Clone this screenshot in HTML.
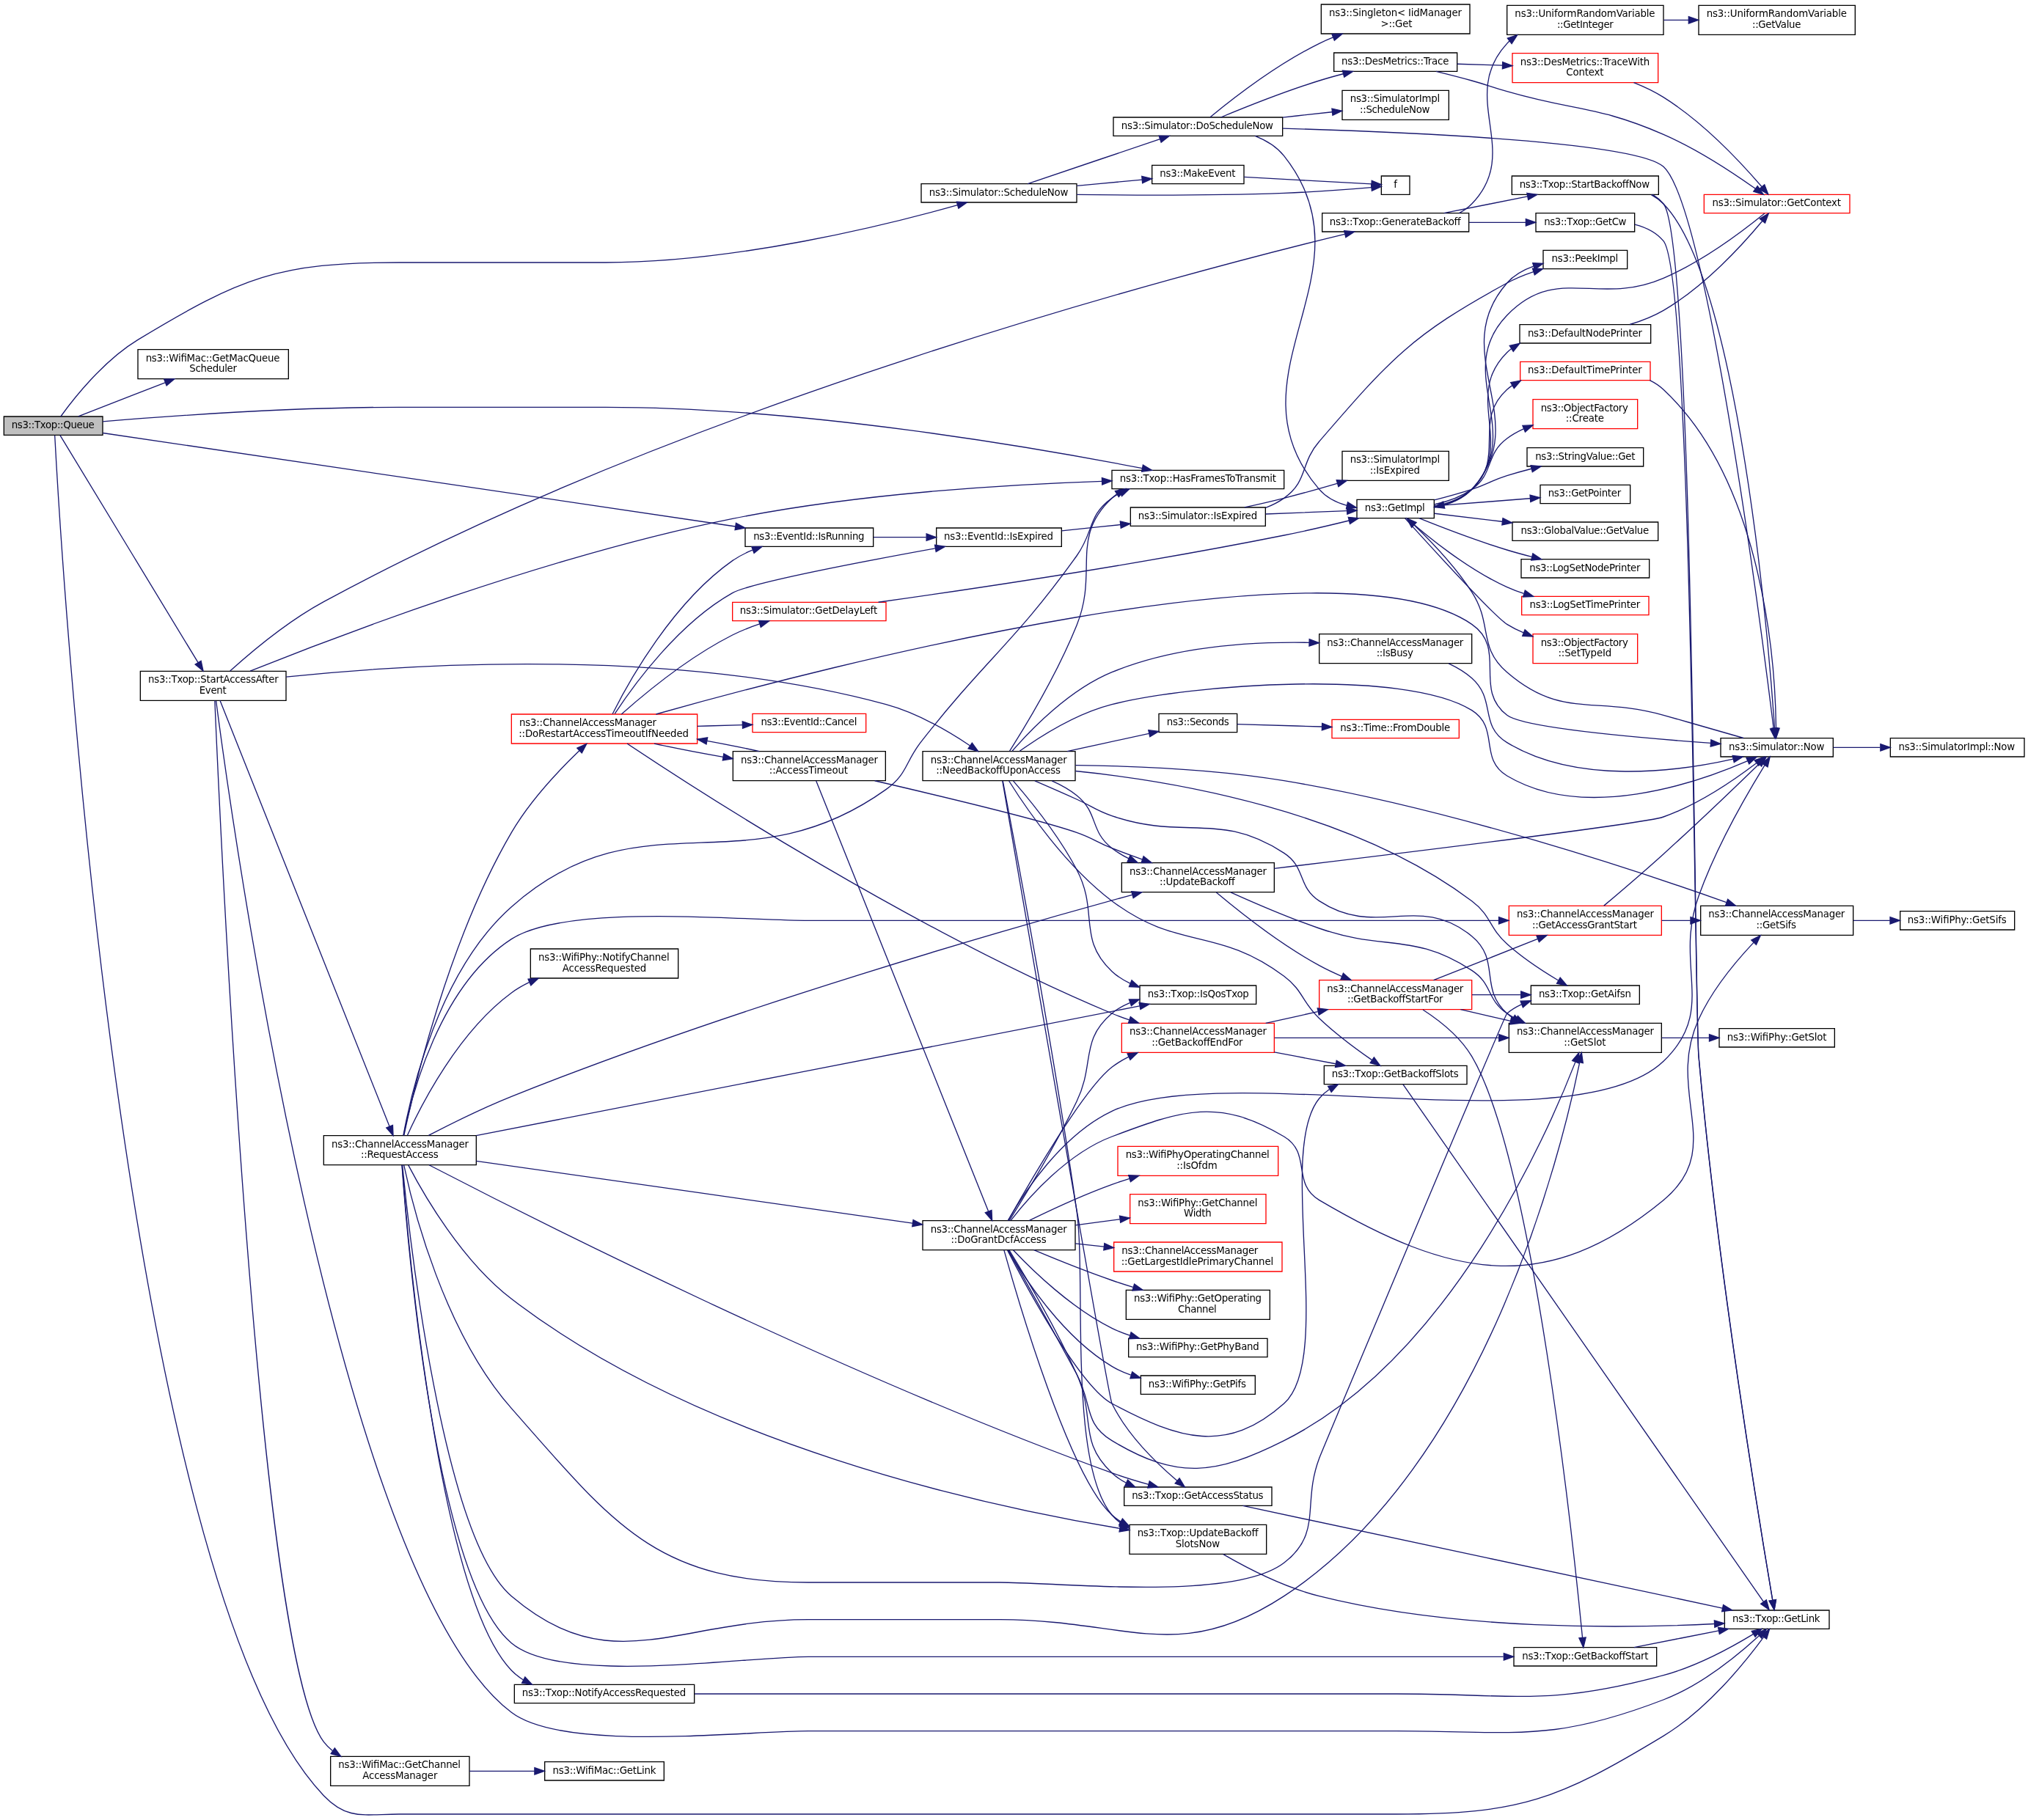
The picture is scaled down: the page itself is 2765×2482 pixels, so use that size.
<!DOCTYPE html>
<html lang="en">
<head>
<meta charset="utf-8">
<title>ns3::Txop::Queue call graph</title>
<style>
html,body{margin:0;padding:0;background:#fff;}
body{width:2765px;height:2482px;overflow:hidden;}
svg{display:block;}
svg text{filter:grayscale(1);font-family:"DejaVu Sans","Liberation Sans",sans-serif;font-size:10px;fill:#000;}
</style>
</head>
<body>
<svg width="2765" height="2482" viewBox="0 0 2073.75 1861.5">
<g id="graph0" class="graph" transform="scale(1 1) rotate(0) translate(4 1857.13)">
<polygon fill="white" stroke="none" points="-4,4 -4,-1857.13 2070,-1857.13 2070,4 -4,4"/>
<g id="node1" class="node">
<polygon fill="#bfbfbf" stroke="black" points="0,-1412.13 0,-1431.13 101,-1431.13 101,-1412.13 0,-1412.13"/>
<text textLength="84.79" text-anchor="middle" x="50.16" y="-1419.13">ns3::Txop::Queue</text>
</g>
<g id="node2" class="node">
<polygon fill="white" stroke="black" points="1759.5,-191.13 1759.5,-210.13 1866.5,-210.13 1866.5,-191.13 1759.5,-191.13"/>
<text textLength="89.56" text-anchor="middle" x="1812.32" y="-198.13">ns3::Txop::GetLink</text>
</g>
<g id="edge1" class="edge">
<path fill="none" stroke="midnightblue" d="M52.01,-1411.82C58.04,-1298.52 119.82,-237.95 327,-20.63 351.32,4.88 368.75,-1.63 404,-1.63 404,-1.63 404,-1.63 1424,-1.63 1550.44,-1.63 1588.8,-16.21 1697,-81.63 1741.43,-108.49 1780.43,-156.72 1799.53,-182.77"/>
<polygon fill="midnightblue" stroke="midnightblue" points="1796.76,-184.91 1805.44,-190.99 1802.45,-180.82 1796.76,-184.91"/>
</g>
<g id="node3" class="node">
<polygon fill="white" stroke="black" points="137,-1469.63 137,-1499.63 291,-1499.63 291,-1469.63 137,-1469.63"/>
<text textLength="137.05" text-anchor="start" x="145.00" y="-1487.63">ns3::WifiMac::GetMacQueue</text>
<text textLength="48.53" text-anchor="middle" x="214.00" y="-1476.63">Scheduler</text>
</g>
<g id="edge2" class="edge">
<path fill="none" stroke="midnightblue" d="M76.03,-1431.2C99.49,-1440.35 135.54,-1454.41 164.76,-1465.81"/>
<polygon fill="midnightblue" stroke="midnightblue" points="163.79,-1469.19 174.38,-1469.56 166.34,-1462.67 163.79,-1469.19"/>
</g>
<g id="node4" class="node">
<polygon fill="white" stroke="black" points="1133,-1357.13 1133,-1376.13 1309,-1376.13 1309,-1357.13 1133,-1357.13"/>
<text textLength="159.94" text-anchor="middle" x="1221.00" y="-1364.13">ns3::Txop::HasFramesToTransmit</text>
</g>
<g id="edge3" class="edge">
<path fill="none" stroke="midnightblue" d="M101.07,-1425.99C169.26,-1431.6 295.83,-1440.63 404,-1440.63 404,-1440.63 404,-1440.63 615,-1440.63 818.48,-1440.63 1057.64,-1398.87 1164.06,-1378.09"/>
<polygon fill="midnightblue" stroke="midnightblue" points="1164.8,-1381.52 1173.94,-1376.15 1163.45,-1374.65 1164.8,-1381.52"/>
</g>
<g id="node5" class="node">
<polygon fill="white" stroke="black" points="758,-1298.13 758,-1317.13 889,-1317.13 889,-1298.13 758,-1298.13"/>
<text textLength="113.49" text-anchor="middle" x="823.16" y="-1305.13">ns3::EventId::IsRunning</text>
</g>
<g id="edge4" class="edge">
<path fill="none" stroke="midnightblue" d="M101.2,-1414.28C232.93,-1394.8 591.65,-1341.76 748,-1318.64"/>
<polygon fill="midnightblue" stroke="midnightblue" points="748.62,-1322.09 758,-1317.17 747.59,-1315.17 748.62,-1322.09"/>
</g>
<g id="node23" class="node">
<polygon fill="white" stroke="black" points="938,-1650.13 938,-1669.13 1097,-1669.13 1097,-1650.13 938,-1650.13"/>
<text textLength="142.25" text-anchor="middle" x="1017.16" y="-1657.13">ns3::Simulator::ScheduleNow</text>
</g>
<g id="edge25" class="edge">
<path fill="none" stroke="midnightblue" d="M58.09,-1431.13C71.09,-1449.14 101.82,-1488.36 137,-1509.63 242.9,-1573.65 280.25,-1588.63 404,-1588.63 404,-1588.63 404,-1588.63 615,-1588.63 748.35,-1588.63 902.87,-1627.08 975.18,-1647.39"/>
<polygon fill="midnightblue" stroke="midnightblue" points="974.25,-1650.76 984.83,-1650.13 976.17,-1644.03 974.25,-1650.76"/>
</g>
<g id="node31" class="node">
<polygon fill="white" stroke="black" points="139.5,-1140.63 139.5,-1170.63 288.5,-1170.63 288.5,-1140.63 139.5,-1140.63"/>
<text textLength="133.29" text-anchor="start" x="147.50" y="-1158.63">ns3::Txop::StartAccessAfter</text>
<text textLength="27.80" text-anchor="middle" x="213.66" y="-1147.63">Event</text>
</g>
<g id="edge38" class="edge">
<path fill="none" stroke="midnightblue" d="M57.44,-1411.85C80.51,-1373.84 164.59,-1235.37 198.59,-1179.37"/>
<polygon fill="midnightblue" stroke="midnightblue" points="201.58,-1181.18 203.78,-1170.82 195.6,-1177.55 201.58,-1181.18"/>
</g>
<g id="node6" class="node">
<polygon fill="white" stroke="black" points="953.5,-1298.13 953.5,-1317.13 1081.5,-1317.13 1081.5,-1298.13 953.5,-1298.13"/>
<text textLength="111.68" text-anchor="middle" x="1017.16" y="-1305.13">ns3::EventId::IsExpired</text>
</g>
<g id="edge5" class="edge">
<path fill="none" stroke="midnightblue" d="M889.23,-1307.63C906.53,-1307.63 925.34,-1307.63 943.06,-1307.63"/>
<polygon fill="midnightblue" stroke="midnightblue" points="943.35,-1311.13 953.35,-1307.63 943.35,-1304.13 943.35,-1311.13"/>
</g>
<g id="node7" class="node">
<polygon fill="white" stroke="black" points="1152,-1319.13 1152,-1338.13 1290,-1338.13 1290,-1319.13 1152,-1319.13"/>
<text textLength="121.83" text-anchor="middle" x="1220.66" y="-1326.13">ns3::Simulator::IsExpired</text>
</g>
<g id="edge6" class="edge">
<path fill="none" stroke="midnightblue" d="M1081.7,-1314.22C1100.76,-1316.2 1121.91,-1318.4 1141.81,-1320.48"/>
<polygon fill="midnightblue" stroke="midnightblue" points="1141.47,-1323.96 1151.78,-1321.52 1142.2,-1317 1141.47,-1323.96"/>
</g>
<g id="node8" class="node">
<polygon fill="white" stroke="black" points="1383.5,-1327.13 1383.5,-1346.13 1462.5,-1346.13 1462.5,-1327.13 1383.5,-1327.13"/>
<text textLength="61.32" text-anchor="middle" x="1422.32" y="-1334.13">ns3::GetImpl</text>
</g>
<g id="edge7" class="edge">
<path fill="none" stroke="midnightblue" d="M1290.27,-1331.36C1317.5,-1332.45 1348.23,-1333.68 1373.16,-1334.67"/>
<polygon fill="midnightblue" stroke="midnightblue" points="1373.33,-1338.18 1383.46,-1335.09 1373.61,-1331.19 1373.33,-1338.18"/>
</g>
<g id="node20" class="node">
<polygon fill="white" stroke="black" points="1574,-1582.13 1574,-1601.13 1660,-1601.13 1660,-1582.13 1574,-1582.13"/>
<text textLength="68.01" text-anchor="middle" x="1616.66" y="-1589.13">ns3::PeekImpl</text>
</g>
<g id="edge24" class="edge">
<path fill="none" stroke="midnightblue" d="M1290.3,-1337.89C1296.95,-1340.42 1303.32,-1343.61 1309,-1347.63 1333.78,-1365.14 1325.16,-1382.67 1345,-1405.63 1418.01,-1490.1 1438.91,-1514.31 1537,-1567.63 1545.41,-1572.2 1554.81,-1576.02 1564.11,-1579.17"/>
<polygon fill="midnightblue" stroke="midnightblue" points="1563.13,-1582.53 1573.72,-1582.21 1565.25,-1575.86 1563.13,-1582.53"/>
</g>
<g id="node22" class="node">
<polygon fill="white" stroke="black" points="1368.5,-1365.63 1368.5,-1395.63 1477.5,-1395.63 1477.5,-1365.63 1368.5,-1365.63"/>
<text textLength="91.84" text-anchor="start" x="1376.50" y="-1383.63">ns3::SimulatorImpl</text>
<text textLength="51.16" text-anchor="middle" x="1422.32" y="-1372.63">::IsExpired</text>
</g>
<g id="edge23" class="edge">
<path fill="none" stroke="midnightblue" d="M1268.65,-1338.19C1281.74,-1341.05 1295.97,-1344.31 1309,-1347.63 1326.71,-1352.14 1345.84,-1357.53 1363.24,-1362.63"/>
<polygon fill="midnightblue" stroke="midnightblue" points="1362.67,-1366.11 1373.26,-1365.59 1364.66,-1359.4 1362.67,-1366.11"/>
</g>
<g id="node9" class="node">
<polygon fill="white" stroke="red" points="1563.5,-1418.63 1563.5,-1448.63 1670.5,-1448.63 1670.5,-1418.63 1563.5,-1418.63"/>
<text textLength="89.43" text-anchor="start" x="1571.50" y="-1436.63">ns3::ObjectFactory</text>
<text textLength="39.19" text-anchor="middle" x="1616.66" y="-1425.63">::Create</text>
</g>
<g id="edge8" class="edge">
<path fill="none" stroke="midnightblue" d="M1462.71,-1341.13C1475.73,-1344.03 1489.79,-1348.8 1501,-1356.63 1524.04,-1372.72 1514.38,-1391.93 1537,-1408.63 1542.16,-1412.44 1547.93,-1415.68 1553.93,-1418.44"/>
<polygon fill="midnightblue" stroke="midnightblue" points="1552.92,-1421.81 1563.49,-1422.38 1555.58,-1415.34 1552.92,-1421.81"/>
</g>
<g id="node10" class="node">
<polygon fill="white" stroke="black" points="1550,-1506.13 1550,-1525.13 1684,-1525.13 1684,-1506.13 1550,-1506.13"/>
<text textLength="116.99" text-anchor="middle" x="1616.66" y="-1513.13">ns3::DefaultNodePrinter</text>
</g>
<g id="edge9" class="edge">
<path fill="none" stroke="midnightblue" d="M1462.87,-1338.73C1476.53,-1341.35 1490.95,-1346.56 1501,-1356.63 1546.37,-1402.11 1491.22,-1451.56 1537,-1496.63 1538.43,-1498.04 1539.95,-1499.35 1541.54,-1500.57"/>
<polygon fill="midnightblue" stroke="midnightblue" points="1539.69,-1503.55 1550.02,-1505.94 1543.44,-1497.63 1539.69,-1503.55"/>
</g>
<g id="node12" class="node">
<polygon fill="white" stroke="red" points="1550.5,-1468.13 1550.5,-1487.13 1683.5,-1487.13 1683.5,-1468.13 1550.5,-1468.13"/>
<text textLength="116.77" text-anchor="middle" x="1616.66" y="-1475.13">ns3::DefaultTimePrinter</text>
</g>
<g id="edge12" class="edge">
<path fill="none" stroke="midnightblue" d="M1462.8,-1339.29C1476.29,-1341.99 1490.62,-1347.1 1501,-1356.63 1536.41,-1389.14 1501.3,-1426.43 1537,-1458.63 1538.7,-1460.16 1540.51,-1461.58 1542.39,-1462.89"/>
<polygon fill="midnightblue" stroke="midnightblue" points="1540.72,-1465.97 1551.13,-1467.94 1544.23,-1459.91 1540.72,-1465.97"/>
</g>
<g id="node15" class="node">
<polygon fill="white" stroke="black" points="1557.5,-1380.13 1557.5,-1399.13 1676.5,-1399.13 1676.5,-1380.13 1557.5,-1380.13"/>
<text textLength="102.22" text-anchor="middle" x="1617.00" y="-1387.13">ns3::StringValue::Get</text>
</g>
<g id="edge16" class="edge">
<path fill="none" stroke="midnightblue" d="M1462.64,-1345.72C1474.98,-1348.88 1488.65,-1352.64 1501,-1356.63 1517.34,-1361.91 1520.62,-1365.5 1537,-1370.63 1545.03,-1373.14 1553.61,-1375.52 1562.04,-1377.68"/>
<polygon fill="midnightblue" stroke="midnightblue" points="1561.29,-1381.1 1571.84,-1380.12 1562.98,-1374.31 1561.29,-1381.1"/>
</g>
<g id="node16" class="node">
<polygon fill="white" stroke="black" points="1571,-1342.13 1571,-1361.13 1663,-1361.13 1663,-1342.13 1571,-1342.13"/>
<text textLength="74.65" text-anchor="middle" x="1616.32" y="-1349.13">ns3::GetPointer</text>
</g>
<g id="edge17" class="edge">
<path fill="none" stroke="midnightblue" d="M1462.85,-1339.66C1490.91,-1341.86 1529.21,-1344.85 1560.49,-1347.29"/>
<polygon fill="midnightblue" stroke="midnightblue" points="1560.56,-1350.81 1570.8,-1348.1 1561.1,-1343.83 1560.56,-1350.81"/>
</g>
<g id="node17" class="node">
<polygon fill="white" stroke="black" points="1542.5,-1304.13 1542.5,-1323.13 1691.5,-1323.13 1691.5,-1304.13 1542.5,-1304.13"/>
<text textLength="131.07" text-anchor="middle" x="1616.66" y="-1311.13">ns3::GlobalValue::GetValue</text>
</g>
<g id="edge18" class="edge">
<path fill="none" stroke="midnightblue" d="M1462.85,-1331.97C1482.8,-1329.58 1507.91,-1326.58 1532,-1323.69"/>
<polygon fill="midnightblue" stroke="midnightblue" points="1532.74,-1327.13 1542.25,-1322.46 1531.9,-1320.18 1532.74,-1327.13"/>
</g>
<g id="node18" class="node">
<polygon fill="white" stroke="black" points="1551.5,-1266.13 1551.5,-1285.13 1682.5,-1285.13 1682.5,-1266.13 1551.5,-1266.13"/>
<text textLength="113.30" text-anchor="middle" x="1616.66" y="-1273.13">ns3::LogSetNodePrinter</text>
</g>
<g id="edge19" class="edge">
<path fill="none" stroke="midnightblue" d="M1447.09,-1327.12C1469.74,-1318.01 1505.37,-1304.27 1537,-1294.63 1545.15,-1292.14 1553.84,-1289.78 1562.38,-1287.61"/>
<polygon fill="midnightblue" stroke="midnightblue" points="1563.42,-1290.95 1572.28,-1285.15 1561.74,-1284.16 1563.42,-1290.95"/>
</g>
<g id="node19" class="node">
<polygon fill="white" stroke="red" points="1552,-1228.13 1552,-1247.13 1682,-1247.13 1682,-1228.13 1552,-1228.13"/>
<text textLength="113.09" text-anchor="middle" x="1616.66" y="-1235.13">ns3::LogSetTimePrinter</text>
</g>
<g id="edge20" class="edge">
<path fill="none" stroke="midnightblue" d="M1434.67,-1326.92C1453.75,-1310.06 1495.63,-1275.4 1537,-1256.63 1542.43,-1254.16 1548.22,-1251.99 1554.11,-1250.09"/>
<polygon fill="midnightblue" stroke="midnightblue" points="1555.47,-1253.34 1564.06,-1247.13 1553.47,-1246.63 1555.47,-1253.34"/>
</g>
<g id="edge21" class="edge">
<path fill="none" stroke="midnightblue" d="M1462.53,-1338.15C1476.47,-1340.66 1491.19,-1345.95 1501,-1356.63 1565.35,-1426.7 1474.1,-1496.26 1537,-1567.63 1544.11,-1575.7 1553.84,-1581.1 1564.04,-1584.7"/>
<polygon fill="midnightblue" stroke="midnightblue" points="1563.31,-1588.13 1573.89,-1587.63 1565.31,-1581.43 1563.31,-1588.13"/>
</g>
<g id="node21" class="node">
<polygon fill="white" stroke="red" points="1563.5,-1178.63 1563.5,-1208.63 1670.5,-1208.63 1670.5,-1178.63 1563.5,-1178.63"/>
<text textLength="89.43" text-anchor="start" x="1571.50" y="-1196.63">ns3::ObjectFactory</text>
<text textLength="54.66" text-anchor="middle" x="1616.66" y="-1185.63">::SetTypeId</text>
</g>
<g id="edge22" class="edge">
<path fill="none" stroke="midnightblue" d="M1432.76,-1326.95C1457.06,-1300.15 1524.42,-1226.46 1537,-1218.63 1542.29,-1215.34 1548.05,-1212.44 1553.97,-1209.91"/>
<polygon fill="midnightblue" stroke="midnightblue" points="1555.34,-1213.13 1563.37,-1206.21 1552.78,-1206.61 1555.34,-1213.13"/>
</g>
<g id="node11" class="node">
<polygon fill="white" stroke="red" points="1738.5,-1639.13 1738.5,-1658.13 1887.5,-1658.13 1887.5,-1639.13 1738.5,-1639.13"/>
<text textLength="131.51" text-anchor="middle" x="1812.66" y="-1646.13">ns3::Simulator::GetContext</text>
</g>
<g id="edge10" class="edge">
<path fill="none" stroke="midnightblue" d="M1662.56,-1525.25C1674.22,-1528.8 1686.47,-1533.5 1697,-1539.63 1739.14,-1564.14 1778.05,-1606.96 1798.01,-1630.98"/>
<polygon fill="midnightblue" stroke="midnightblue" points="1795.44,-1633.38 1804.47,-1638.92 1800.87,-1628.95 1795.44,-1633.38"/>
</g>
<g id="edge11" class="edge">
<path fill="none" stroke="midnightblue" d="M1800.39,-1638.92C1780.5,-1622.77 1738.07,-1590.41 1697,-1572.63 1629.93,-1543.59 1587.81,-1587.17 1537,-1534.63 1480.89,-1476.6 1556.49,-1415.24 1501,-1356.63 1493.44,-1348.64 1483.13,-1343.69 1472.52,-1340.66"/>
<polygon fill="midnightblue" stroke="midnightblue" points="1473.29,-1337.24 1462.76,-1338.38 1471.7,-1344.06 1473.29,-1337.24"/>
</g>
<g id="node13" class="node">
<polygon fill="white" stroke="black" points="1755.5,-1083.13 1755.5,-1102.13 1870.5,-1102.13 1870.5,-1083.13 1755.5,-1083.13"/>
<text textLength="97.65" text-anchor="middle" x="1812.66" y="-1090.13">ns3::Simulator::Now</text>
</g>
<g id="edge13" class="edge">
<path fill="none" stroke="midnightblue" d="M1683.01,-1468.1C1688.11,-1465.59 1692.88,-1462.48 1697,-1458.63 1800.35,-1362.11 1811.37,-1173.94 1812.13,-1112.53"/>
<polygon fill="midnightblue" stroke="midnightblue" points="1815.63,-1112.31 1812.16,-1102.3 1808.63,-1112.28 1815.63,-1112.31"/>
</g>
<g id="edge14" class="edge">
<path fill="none" stroke="midnightblue" d="M1778.81,-1102.26C1755.86,-1108.89 1724.6,-1117.87 1697,-1125.63 1626,-1145.58 1592.8,-1121.4 1537,-1169.63 1506.89,-1195.65 1522.64,-1218.22 1501,-1251.63 1484.07,-1277.77 1459.08,-1303.69 1442.21,-1319.91"/>
<polygon fill="midnightblue" stroke="midnightblue" points="1439.51,-1317.64 1434.64,-1327.05 1444.32,-1322.73 1439.51,-1317.64"/>
</g>
<g id="node14" class="node">
<polygon fill="white" stroke="black" points="1929,-1083.13 1929,-1102.13 2066,-1102.13 2066,-1083.13 1929,-1083.13"/>
<text textLength="118.97" text-anchor="middle" x="1996.82" y="-1090.13">ns3::SimulatorImpl::Now</text>
</g>
<g id="edge15" class="edge">
<path fill="none" stroke="midnightblue" d="M1870.74,-1092.63C1885.85,-1092.63 1902.44,-1092.63 1918.47,-1092.63"/>
<polygon fill="midnightblue" stroke="midnightblue" points="1918.9,-1096.13 1928.9,-1092.63 1918.9,-1089.13 1918.9,-1096.13"/>
</g>
<g id="node24" class="node">
<polygon fill="white" stroke="black" points="1134.5,-1718.13 1134.5,-1737.13 1307.5,-1737.13 1307.5,-1718.13 1134.5,-1718.13"/>
<text textLength="155.37" text-anchor="middle" x="1220.32" y="-1725.13">ns3::Simulator::DoScheduleNow</text>
</g>
<g id="edge26" class="edge">
<path fill="none" stroke="midnightblue" d="M1046.94,-1669.23C1082.35,-1681.17 1142.92,-1701.62 1182.2,-1714.87"/>
<polygon fill="midnightblue" stroke="midnightblue" points="1181.11,-1718.2 1191.7,-1718.08 1183.35,-1711.56 1181.11,-1718.2"/>
</g>
<g id="node29" class="node">
<polygon fill="white" stroke="black" points="1408.5,-1658.13 1408.5,-1677.13 1437.5,-1677.13 1437.5,-1658.13 1408.5,-1658.13"/>
<text textLength="3.53" text-anchor="middle" x="1423.00" y="-1665.13">f</text>
</g>
<g id="edge35" class="edge">
<path fill="none" stroke="midnightblue" d="M1097.13,-1658.13C1155.59,-1657.38 1237.3,-1657.09 1309,-1659.63 1339.91,-1660.72 1375.49,-1663.49 1398.33,-1665.46"/>
<polygon fill="midnightblue" stroke="midnightblue" points="1398.18,-1668.96 1408.45,-1666.36 1398.8,-1661.99 1398.18,-1668.96"/>
</g>
<g id="node30" class="node">
<polygon fill="white" stroke="black" points="1174,-1669.13 1174,-1688.13 1268,-1688.13 1268,-1669.13 1174,-1669.13"/>
<text textLength="77.44" text-anchor="middle" x="1220.66" y="-1676.13">ns3::MakeEvent</text>
</g>
<g id="edge36" class="edge">
<path fill="none" stroke="midnightblue" d="M1097.27,-1667.06C1119.46,-1669.15 1143.15,-1671.38 1163.73,-1673.32"/>
<polygon fill="midnightblue" stroke="midnightblue" points="1163.59,-1676.82 1173.88,-1674.28 1164.25,-1669.86 1163.59,-1676.82"/>
</g>
<g id="edge28" class="edge">
<path fill="none" stroke="midnightblue" d="M1279.34,-1718.08C1290.7,-1713.64 1301.44,-1707.13 1309,-1697.63 1403.87,-1578.36 1245.55,-1472.11 1345,-1356.63 1352.25,-1348.21 1362.53,-1343.11 1373.24,-1340.07"/>
<polygon fill="midnightblue" stroke="midnightblue" points="1374.14,-1343.46 1383.11,-1337.82 1372.58,-1336.63 1374.14,-1343.46"/>
</g>
<g id="edge29" class="edge">
<path fill="none" stroke="midnightblue" d="M1307.66,-1725.75C1436.64,-1722.1 1668.76,-1712.05 1697,-1686.63 1741.31,-1646.75 1797.47,-1210.5 1809.61,-1112.22"/>
<polygon fill="midnightblue" stroke="midnightblue" points="1813.1,-1112.53 1810.85,-1102.18 1806.15,-1111.68 1813.1,-1112.53"/>
</g>
<g id="node25" class="node">
<polygon fill="white" stroke="black" points="1347,-1822.63 1347,-1852.63 1499,-1852.63 1499,-1822.63 1347,-1822.63"/>
<text textLength="135.67" text-anchor="start" x="1355.00" y="-1840.63">ns3::Singleton&lt; IidManager</text>
<text textLength="32.14" text-anchor="middle" x="1424.02" y="-1829.63"> &gt;::Get</text>
</g>
<g id="edge27" class="edge">
<path fill="none" stroke="midnightblue" d="M1233.5,-1737.3C1254.45,-1754.53 1300.79,-1790.76 1345,-1812.63 1349.53,-1814.87 1354.31,-1816.97 1359.17,-1818.93"/>
<polygon fill="midnightblue" stroke="midnightblue" points="1358,-1822.23 1368.59,-1822.53 1360.5,-1815.69 1358,-1822.23"/>
</g>
<g id="node26" class="node">
<polygon fill="white" stroke="black" points="1368.5,-1734.63 1368.5,-1764.63 1477.5,-1764.63 1477.5,-1734.63 1368.5,-1734.63"/>
<text textLength="91.84" text-anchor="start" x="1376.50" y="-1752.63">ns3::SimulatorImpl</text>
<text textLength="71.52" text-anchor="middle" x="1422.32" y="-1741.63">::ScheduleNow</text>
</g>
<g id="edge30" class="edge">
<path fill="none" stroke="midnightblue" d="M1307.69,-1737.05C1324.56,-1738.91 1341.99,-1740.83 1358,-1742.59"/>
<polygon fill="midnightblue" stroke="midnightblue" points="1357.97,-1746.11 1368.29,-1743.72 1358.73,-1739.15 1357.97,-1746.11"/>
</g>
<g id="node27" class="node">
<polygon fill="white" stroke="black" points="1360,-1784.13 1360,-1803.13 1486,-1803.13 1486,-1784.13 1360,-1784.13"/>
<text textLength="109.70" text-anchor="middle" x="1422.66" y="-1791.13">ns3::DesMetrics::Trace</text>
</g>
<g id="edge31" class="edge">
<path fill="none" stroke="midnightblue" d="M1244.38,-1737.13C1268.81,-1747.29 1309.22,-1763.43 1345,-1774.63 1352.85,-1777.09 1361.22,-1779.43 1369.45,-1781.58"/>
<polygon fill="midnightblue" stroke="midnightblue" points="1368.82,-1785.03 1379.38,-1784.1 1370.55,-1778.25 1368.82,-1785.03"/>
</g>
<g id="edge32" class="edge">
<path fill="none" stroke="midnightblue" d="M1464.47,-1784.08C1476.28,-1781.18 1489.19,-1777.89 1501,-1774.63 1517.13,-1770.18 1520.93,-1768.29 1537,-1763.63 1607.83,-1743.07 1629.38,-1749.08 1697,-1719.63 1731.79,-1704.48 1768.52,-1680.13 1790.85,-1664.26"/>
<polygon fill="midnightblue" stroke="midnightblue" points="1793.15,-1666.91 1799.22,-1658.23 1789.06,-1661.24 1793.15,-1666.91"/>
</g>
<g id="node28" class="node">
<polygon fill="white" stroke="red" points="1542.5,-1772.63 1542.5,-1802.63 1691.5,-1802.63 1691.5,-1772.63 1542.5,-1772.63"/>
<text textLength="132.43" text-anchor="start" x="1550.50" y="-1790.63">ns3::DesMetrics::TraceWith</text>
<text textLength="38.38" text-anchor="middle" x="1616.66" y="-1779.63">Context</text>
</g>
<g id="edge33" class="edge">
<path fill="none" stroke="midnightblue" d="M1486.07,-1791.69C1500.81,-1791.23 1516.78,-1790.73 1532.3,-1790.24"/>
<polygon fill="midnightblue" stroke="midnightblue" points="1532.54,-1793.74 1542.43,-1789.93 1532.32,-1786.74 1532.54,-1793.74"/>
</g>
<g id="edge34" class="edge">
<path fill="none" stroke="midnightblue" d="M1666.66,-1772.62C1677.04,-1768.48 1687.68,-1763.48 1697,-1757.63 1738.08,-1731.83 1777.13,-1689.85 1797.46,-1666.23"/>
<polygon fill="midnightblue" stroke="midnightblue" points="1800.28,-1668.31 1804.07,-1658.42 1794.94,-1663.79 1800.28,-1668.31"/>
</g>
<g id="edge37" class="edge">
<path fill="none" stroke="midnightblue" d="M1268.14,-1676.09C1308.79,-1673.85 1366.39,-1670.69 1398.33,-1668.93"/>
<polygon fill="midnightblue" stroke="midnightblue" points="1398.7,-1672.42 1408.49,-1668.37 1398.31,-1665.43 1398.7,-1672.42"/>
</g>
<g id="edge49" class="edge">
<path fill="none" stroke="midnightblue" d="M216.96,-1140.26C232.54,-1020.77 340.4,-241.12 519,-105.63 572.84,-64.79 754.92,-86.63 822.5,-86.63 822.5,-86.63 822.5,-86.63 1424,-86.63 1546.16,-86.63 1583.02,-74.67 1697,-118.63 1735.78,-133.58 1773.62,-164.68 1794.77,-183.99"/>
<polygon fill="midnightblue" stroke="midnightblue" points="1792.57,-186.73 1802.27,-190.99 1797.34,-181.61 1792.57,-186.73"/>
</g>
<g id="edge50" class="edge">
<path fill="none" stroke="midnightblue" d="M251.81,-1170.75C336.94,-1204.99 554.7,-1288.44 745,-1326.63 874.11,-1352.54 1026.23,-1361.69 1122.88,-1364.91"/>
<polygon fill="midnightblue" stroke="midnightblue" points="1122.82,-1368.41 1132.92,-1365.23 1123.04,-1361.41 1122.82,-1368.41"/>
</g>
<g id="node32" class="node">
<polygon fill="white" stroke="black" points="1348,-1620.13 1348,-1639.13 1498,-1639.13 1498,-1620.13 1348,-1620.13"/>
<text textLength="134.25" text-anchor="middle" x="1422.66" y="-1627.13">ns3::Txop::GenerateBackoff</text>
</g>
<g id="edge39" class="edge">
<path fill="none" stroke="midnightblue" d="M231.29,-1170.83C252.13,-1189.6 289.95,-1221.5 327,-1241.63 703.95,-1446.43 1210.45,-1578.76 1370.98,-1617.66"/>
<polygon fill="midnightblue" stroke="midnightblue" points="1370.51,-1621.15 1381.05,-1620.09 1372.15,-1614.34 1370.51,-1621.15"/>
</g>
<g id="node37" class="node">
<polygon fill="white" stroke="black" points="334,-30.63 334,-60.63 476,-60.63 476,-30.63 334,-30.63"/>
<text textLength="125.00" text-anchor="start" x="342.00" y="-48.63">ns3::WifiMac::GetChannel</text>
<text textLength="76.58" text-anchor="middle" x="405.00" y="-37.63">AccessManager</text>
</g>
<g id="edge47" class="edge">
<path fill="none" stroke="midnightblue" d="M215.62,-1140.53C220.88,-1016.24 259.22,-164.55 327,-75.63 329.64,-72.16 332.74,-69.1 336.15,-66.38"/>
<polygon fill="midnightblue" stroke="midnightblue" points="338.28,-69.17 344.61,-60.68 334.36,-63.37 338.28,-69.17"/>
</g>
<g id="node39" class="node">
<polygon fill="white" stroke="black" points="939.5,-1058.63 939.5,-1088.63 1095.5,-1088.63 1095.5,-1058.63 939.5,-1058.63"/>
<text textLength="139.50" text-anchor="start" x="947.50" y="-1076.63">ns3::ChannelAccessManager</text>
<text textLength="127.29" text-anchor="middle" x="1016.82" y="-1065.63">::NeedBackoffUponAccess</text>
</g>
<g id="edge51" class="edge">
<path fill="none" stroke="midnightblue" d="M288.59,-1164.74C416.14,-1178.1 685.39,-1195.49 902,-1136.63 933.51,-1128.07 965.77,-1109.22 987.99,-1094.36"/>
<polygon fill="midnightblue" stroke="midnightblue" points="990,-1097.23 996.28,-1088.69 986.05,-1091.45 990,-1097.23"/>
</g>
<g id="node56" class="node">
<polygon fill="white" stroke="black" points="327,-665.63 327,-695.63 483,-695.63 483,-665.63 327,-665.63"/>
<text textLength="140.20" text-anchor="start" x="335.00" y="-683.63">ns3::ChannelAccessManager</text>
<text textLength="79.39" text-anchor="middle" x="404.66" y="-672.63">::RequestAccess</text>
</g>
<g id="edge81" class="edge">
<path fill="none" stroke="midnightblue" d="M220.97,-1140.63C248.16,-1072.28 360.46,-790.06 394.3,-705"/>
<polygon fill="midnightblue" stroke="midnightblue" points="397.58,-706.22 398.03,-695.63 391.08,-703.63 397.58,-706.22"/>
</g>
<g id="node33" class="node">
<polygon fill="white" stroke="black" points="1566.5,-1620.13 1566.5,-1639.13 1667.5,-1639.13 1667.5,-1620.13 1566.5,-1620.13"/>
<text textLength="84.20" text-anchor="middle" x="1617.00" y="-1627.13">ns3::Txop::GetCw</text>
</g>
<g id="edge40" class="edge">
<path fill="none" stroke="midnightblue" d="M1498.23,-1629.63C1517.38,-1629.63 1537.74,-1629.63 1556.05,-1629.63"/>
<polygon fill="midnightblue" stroke="midnightblue" points="1556.28,-1633.13 1566.28,-1629.63 1556.28,-1626.13 1556.28,-1633.13"/>
</g>
<g id="node34" class="node">
<polygon fill="white" stroke="black" points="1537,-1821.63 1537,-1851.63 1697,-1851.63 1697,-1821.63 1537,-1821.63"/>
<text textLength="143.43" text-anchor="start" x="1545.00" y="-1839.63">ns3::UniformRandomVariable</text>
<text textLength="57.57" text-anchor="middle" x="1617.00" y="-1828.63">::GetInteger</text>
</g>
<g id="edge42" class="edge">
<path fill="none" stroke="midnightblue" d="M1488.1,-1639.15C1492.86,-1641.67 1497.25,-1644.78 1501,-1648.63 1553.08,-1702.07 1486.35,-1757.82 1537,-1812.63 1537.78,-1813.47 1538.59,-1814.28 1539.42,-1815.07"/>
<polygon fill="midnightblue" stroke="midnightblue" points="1537.5,-1818.01 1547.54,-1821.4 1541.81,-1812.49 1537.5,-1818.01"/>
</g>
<g id="node36" class="node">
<polygon fill="white" stroke="black" points="1542,-1658.13 1542,-1677.13 1692,-1677.13 1692,-1658.13 1542,-1658.13"/>
<text textLength="133.04" text-anchor="middle" x="1616.32" y="-1665.13">ns3::Txop::StartBackoffNow</text>
</g>
<g id="edge44" class="edge">
<path fill="none" stroke="midnightblue" d="M1472.45,-1639.22C1498.47,-1644.37 1530.73,-1650.75 1558.07,-1656.16"/>
<polygon fill="midnightblue" stroke="midnightblue" points="1557.41,-1659.6 1567.9,-1658.11 1558.77,-1652.73 1557.41,-1659.6"/>
</g>
<g id="edge41" class="edge">
<path fill="none" stroke="midnightblue" d="M1667.68,-1627.6C1678.9,-1624.72 1689.65,-1619.56 1697,-1610.63 1726.48,-1574.83 1728.84,-822.82 1733,-776.63 1752.7,-557.63 1796.08,-294.25 1808.57,-220.6"/>
<polygon fill="midnightblue" stroke="midnightblue" points="1812.07,-220.9 1810.3,-210.45 1805.17,-219.72 1812.07,-220.9"/>
</g>
<g id="node35" class="node">
<polygon fill="white" stroke="black" points="1733,-1821.63 1733,-1851.63 1893,-1851.63 1893,-1821.63 1733,-1821.63"/>
<text textLength="143.43" text-anchor="start" x="1741.00" y="-1839.63">ns3::UniformRandomVariable</text>
<text textLength="49.76" text-anchor="middle" x="1812.66" y="-1828.63">::GetValue</text>
</g>
<g id="edge43" class="edge">
<path fill="none" stroke="midnightblue" d="M1697.19,-1836.63C1705.53,-1836.63 1714.05,-1836.63 1722.5,-1836.63"/>
<polygon fill="midnightblue" stroke="midnightblue" points="1722.75,-1840.13 1732.75,-1836.63 1722.75,-1833.13 1722.75,-1840.13"/>
</g>
<g id="edge45" class="edge">
<path fill="none" stroke="midnightblue" d="M1685.96,-1658.12C1690.11,-1655.57 1693.86,-1652.44 1697,-1648.63 1727.79,-1611.17 1728.7,-824.92 1733,-776.63 1752.5,-557.61 1796.02,-294.24 1808.56,-220.6"/>
<polygon fill="midnightblue" stroke="midnightblue" points="1812.06,-220.9 1810.3,-210.45 1805.16,-219.72 1812.06,-220.9"/>
</g>
<g id="edge46" class="edge">
<path fill="none" stroke="midnightblue" d="M1684.55,-1657.94C1689.14,-1655.44 1693.37,-1652.38 1697,-1648.63 1773.86,-1569.26 1804.29,-1202.55 1810.67,-1112.59"/>
<polygon fill="midnightblue" stroke="midnightblue" points="1814.18,-1112.62 1811.38,-1102.41 1807.2,-1112.14 1814.18,-1112.62"/>
</g>
<g id="node38" class="node">
<polygon fill="white" stroke="black" points="553,-36.13 553,-55.13 675,-55.13 675,-36.13 553,-36.13"/>
<text textLength="105.81" text-anchor="middle" x="614.00" y="-43.13">ns3::WifiMac::GetLink</text>
</g>
<g id="edge48" class="edge">
<path fill="none" stroke="midnightblue" d="M476.08,-45.63C497.55,-45.63 521.16,-45.63 542.64,-45.63"/>
<polygon fill="midnightblue" stroke="midnightblue" points="542.68,-49.13 552.68,-45.63 542.67,-42.13 542.68,-49.13"/>
</g>
<g id="edge61" class="edge">
<path fill="none" stroke="midnightblue" d="M1028.44,-1089.03C1044.69,-1114.76 1077.13,-1168.54 1097,-1217.63 1119.49,-1273.2 1089.45,-1306.42 1133,-1347.63 1134.52,-1349.06 1136.11,-1350.4 1137.78,-1351.64"/>
<polygon fill="midnightblue" stroke="midnightblue" points="1136.29,-1354.84 1146.63,-1357.13 1139.98,-1348.88 1136.29,-1354.84"/>
</g>
<g id="edge65" class="edge">
<path fill="none" stroke="midnightblue" d="M1038.67,-1088.89C1060.56,-1104.4 1097.18,-1127.42 1133,-1136.63 1212.22,-1156.98 1431.47,-1173.69 1501,-1130.63 1529.74,-1112.83 1507.99,-1080.98 1537,-1063.63 1615.74,-1016.55 1730.17,-1055.92 1783.13,-1078.91"/>
<polygon fill="midnightblue" stroke="midnightblue" points="1781.72,-1082.11 1792.28,-1082.98 1784.57,-1075.72 1781.72,-1082.11"/>
</g>
<g id="node40" class="node">
<polygon fill="white" stroke="black" points="1145.5,-317.13 1145.5,-336.13 1296.5,-336.13 1296.5,-317.13 1145.5,-317.13"/>
<text textLength="134.53" text-anchor="middle" x="1220.66" y="-324.13">ns3::Txop::GetAccessStatus</text>
</g>
<g id="edge52" class="edge">
<path fill="none" stroke="midnightblue" d="M1021.12,-1058.34C1037.88,-960.79 1129.31,-429.12 1133,-421.63 1148.98,-389.18 1179.49,-359.82 1199.79,-342.59"/>
<polygon fill="midnightblue" stroke="midnightblue" points="1202.06,-345.25 1207.54,-336.18 1197.6,-339.86 1202.06,-345.25"/>
</g>
<g id="node41" class="node">
<polygon fill="white" stroke="black" points="1561.5,-830.13 1561.5,-849.13 1672.5,-849.13 1672.5,-830.13 1561.5,-830.13"/>
<text textLength="94.49" text-anchor="middle" x="1616.66" y="-837.13">ns3::Txop::GetAifsn</text>
</g>
<g id="edge54" class="edge">
<path fill="none" stroke="midnightblue" d="M1095.8,-1068.48C1197.87,-1058.16 1378.93,-1027.35 1501,-935.63 1521.2,-920.45 1518.23,-908.55 1537,-891.63 1553.01,-877.2 1573.36,-863.9 1589.4,-854.36"/>
<polygon fill="midnightblue" stroke="midnightblue" points="1591.4,-857.25 1598.28,-849.2 1587.88,-851.2 1591.4,-857.25"/>
</g>
<g id="node42" class="node">
<polygon fill="white" stroke="black" points="1350,-748.13 1350,-767.13 1496,-767.13 1496,-748.13 1350,-748.13"/>
<text textLength="129.73" text-anchor="middle" x="1422.66" y="-755.13">ns3::Txop::GetBackoffSlots</text>
</g>
<g id="edge55" class="edge">
<path fill="none" stroke="midnightblue" d="M1027.71,-1058.37C1045.14,-1030.61 1085.5,-971.39 1133,-935.63 1201.21,-884.28 1240.67,-909.83 1309,-858.63 1328.95,-843.68 1326.93,-832.79 1345,-815.63 1361.74,-799.73 1382.79,-784.13 1398.65,-773.12"/>
<polygon fill="midnightblue" stroke="midnightblue" points="1401.04,-775.73 1407.32,-767.19 1397.09,-769.95 1401.04,-775.73"/>
</g>
<g id="node43" class="node">
<polygon fill="white" stroke="black" points="1735,-900.63 1735,-930.63 1891,-930.63 1891,-900.63 1735,-900.63"/>
<text textLength="139.50" text-anchor="start" x="1743.00" y="-918.63">ns3::ChannelAccessManager</text>
<text textLength="40.89" text-anchor="middle" x="1812.32" y="-907.63">::GetSifs</text>
</g>
<g id="edge57" class="edge">
<path fill="none" stroke="midnightblue" d="M1095.77,-1074.35C1154.6,-1073.77 1237.38,-1070.5 1309,-1058.63 1478.2,-1030.58 1671.6,-966.05 1761.34,-934.16"/>
<polygon fill="midnightblue" stroke="midnightblue" points="1762.75,-937.37 1770.99,-930.72 1760.39,-930.78 1762.75,-937.37"/>
</g>
<g id="node45" class="node">
<polygon fill="white" stroke="black" points="1539,-780.63 1539,-810.63 1695,-810.63 1695,-780.63 1539,-780.63"/>
<text textLength="140.20" text-anchor="start" x="1547.00" y="-798.63">ns3::ChannelAccessManager</text>
<text textLength="42.95" text-anchor="middle" x="1616.66" y="-787.63">::GetSlot</text>
</g>
<g id="edge59" class="edge">
<path fill="none" stroke="midnightblue" d="M1054.17,-1058.47C1067.63,-1052.67 1083.06,-1045.93 1097,-1039.63 1113.12,-1032.33 1116.24,-1028.31 1133,-1022.63 1208.79,-996.93 1241.84,-1028.14 1309,-984.63 1331.68,-969.93 1322.43,-950.48 1345,-935.63 1404.44,-896.52 1445.9,-944.65 1501,-899.63 1530.88,-875.22 1508.12,-846.21 1537,-820.63 1538.93,-818.92 1540.98,-817.32 1543.12,-815.84"/>
<polygon fill="midnightblue" stroke="midnightblue" points="1545.01,-818.79 1551.77,-810.63 1541.4,-812.79 1545.01,-818.79"/>
</g>
<g id="node47" class="node">
<polygon fill="white" stroke="black" points="1345,-1178.63 1345,-1208.63 1501,-1208.63 1501,-1178.63 1345,-1178.63"/>
<text textLength="139.50" text-anchor="start" x="1353.00" y="-1196.63">ns3::ChannelAccessManager</text>
<text textLength="37.67" text-anchor="middle" x="1422.32" y="-1185.63">::IsBusy</text>
</g>
<g id="edge62" class="edge">
<path fill="none" stroke="midnightblue" d="M1031.04,-1088.92C1050.32,-1111.17 1089.58,-1151.76 1133,-1169.63 1197.04,-1195.97 1275.69,-1200.94 1334.77,-1199.89"/>
<polygon fill="midnightblue" stroke="midnightblue" points="1334.9,-1203.39 1344.81,-1199.65 1334.73,-1196.39 1334.9,-1203.39"/>
</g>
<g id="node48" class="node">
<polygon fill="white" stroke="black" points="1161.5,-830.13 1161.5,-849.13 1280.5,-849.13 1280.5,-830.13 1161.5,-830.13"/>
<text textLength="103.52" text-anchor="middle" x="1221.34" y="-837.13">ns3::Txop::IsQosTxop</text>
</g>
<g id="edge64" class="edge">
<path fill="none" stroke="midnightblue" d="M1032.08,-1058.48C1049.17,-1038.76 1078.52,-1002.67 1097,-967.63 1119.82,-924.36 1097.32,-897.09 1133,-863.63 1138.42,-858.54 1144.82,-854.52 1151.65,-851.34"/>
<polygon fill="midnightblue" stroke="midnightblue" points="1153.21,-854.48 1161.18,-847.5 1150.59,-847.99 1153.21,-854.48"/>
</g>
<g id="node49" class="node">
<polygon fill="white" stroke="black" points="1181,-1108.13 1181,-1127.13 1261,-1127.13 1261,-1108.13 1181,-1108.13"/>
<text textLength="63.70" text-anchor="middle" x="1221.00" y="-1115.13">ns3::Seconds</text>
</g>
<g id="edge66" class="edge">
<path fill="none" stroke="midnightblue" d="M1087.28,-1088.65C1114.74,-1094.64 1145.73,-1101.41 1170.85,-1106.9"/>
<polygon fill="midnightblue" stroke="midnightblue" points="1170.36,-1110.37 1180.88,-1109.09 1171.85,-1103.53 1170.36,-1110.37"/>
</g>
<g id="node51" class="node">
<polygon fill="white" stroke="black" points="1143,-944.63 1143,-974.63 1299,-974.63 1299,-944.63 1143,-944.63"/>
<text textLength="140.20" text-anchor="start" x="1151.00" y="-962.63">ns3::ChannelAccessManager</text>
<text textLength="76.97" text-anchor="middle" x="1220.32" y="-951.63">::UpdateBackoff</text>
</g>
<g id="edge68" class="edge">
<path fill="none" stroke="midnightblue" d="M1071.6,-1058.51C1080.61,-1054.54 1089.48,-1049.64 1097,-1043.63 1119.54,-1025.63 1110.17,-1007.25 1133,-989.63 1138.27,-985.56 1144.13,-982.02 1150.24,-978.95"/>
<polygon fill="midnightblue" stroke="midnightblue" points="1151.72,-982.12 1159.35,-974.77 1148.8,-975.76 1151.72,-982.12"/>
</g>
<g id="node55" class="node">
<polygon fill="white" stroke="black" points="1151,-267.63 1151,-297.63 1291,-297.63 1291,-267.63 1151,-267.63"/>
<text textLength="123.75" text-anchor="start" x="1159.00" y="-285.63">ns3::Txop::UpdateBackoff</text>
<text textLength="45.37" text-anchor="middle" x="1220.66" y="-274.63">SlotsNow</text>
</g>
<g id="edge79" class="edge">
<path fill="none" stroke="midnightblue" d="M1021.45,-1058.36C1032.5,-1000.88 1072.03,-791.99 1097,-618.63 1106.92,-549.77 1088.01,-360.7 1133,-307.63 1135.67,-304.48 1138.7,-301.72 1142,-299.29"/>
<polygon fill="midnightblue" stroke="midnightblue" points="1144.02,-302.16 1150.69,-293.92 1140.34,-296.2 1144.02,-302.16"/>
</g>
<g id="edge53" class="edge">
<path fill="none" stroke="midnightblue" d="M1266.83,-317.05C1373.33,-294.31 1641.27,-237.09 1757.17,-212.34"/>
<polygon fill="midnightblue" stroke="midnightblue" points="1758.19,-215.7 1767.24,-210.19 1756.73,-208.85 1758.19,-215.7"/>
</g>
<g id="edge56" class="edge">
<path fill="none" stroke="midnightblue" d="M1430.73,-747.96C1476.17,-682.73 1738.01,-306.84 1799.21,-218.99"/>
<polygon fill="midnightblue" stroke="midnightblue" points="1802.24,-220.77 1805.08,-210.56 1796.49,-216.77 1802.24,-220.77"/>
</g>
<g id="node44" class="node">
<polygon fill="white" stroke="black" points="1939,-906.13 1939,-925.13 2056,-925.13 2056,-906.13 1939,-906.13"/>
<text textLength="101.21" text-anchor="middle" x="1997.16" y="-913.13">ns3::WifiPhy::GetSifs</text>
</g>
<g id="edge58" class="edge">
<path fill="none" stroke="midnightblue" d="M1891.13,-915.63C1903.6,-915.63 1916.42,-915.63 1928.64,-915.63"/>
<polygon fill="midnightblue" stroke="midnightblue" points="1928.75,-919.13 1938.75,-915.63 1928.75,-912.13 1928.75,-919.13"/>
</g>
<g id="node46" class="node">
<polygon fill="white" stroke="black" points="1754,-786.13 1754,-805.13 1872,-805.13 1872,-786.13 1754,-786.13"/>
<text textLength="101.81" text-anchor="middle" x="1813.00" y="-793.13">ns3::WifiPhy::GetSlot</text>
</g>
<g id="edge60" class="edge">
<path fill="none" stroke="midnightblue" d="M1695.23,-795.63C1711.27,-795.63 1728.05,-795.63 1743.74,-795.63"/>
<polygon fill="midnightblue" stroke="midnightblue" points="1743.87,-799.13 1753.87,-795.63 1743.87,-792.13 1743.87,-799.13"/>
</g>
<g id="edge63" class="edge">
<path fill="none" stroke="midnightblue" d="M1477.34,-1178.55C1485.85,-1174.6 1494.11,-1169.69 1501,-1163.63 1526.09,-1141.56 1508.42,-1114.94 1537,-1097.63 1608.46,-1054.32 1710.72,-1067.88 1768.29,-1080.8"/>
<polygon fill="midnightblue" stroke="midnightblue" points="1767.62,-1084.24 1778.15,-1083.11 1769.21,-1077.43 1767.62,-1084.24"/>
</g>
<g id="node50" class="node">
<polygon fill="white" stroke="red" points="1358,-1102.13 1358,-1121.13 1488,-1121.13 1488,-1102.13 1358,-1102.13"/>
<text textLength="112.48" text-anchor="middle" x="1422.66" y="-1109.13">ns3::Time::FromDouble</text>
</g>
<g id="edge67" class="edge">
<path fill="none" stroke="midnightblue" d="M1261.04,-1116.46C1285.65,-1115.72 1318.22,-1114.74 1347.62,-1113.86"/>
<polygon fill="midnightblue" stroke="midnightblue" points="1347.98,-1117.35 1357.87,-1113.55 1347.77,-1110.35 1347.98,-1117.35"/>
</g>
<g id="edge78" class="edge">
<path fill="none" stroke="midnightblue" d="M1299.03,-968.82C1428.74,-984.43 1678.5,-1015.05 1697,-1021.63 1733.14,-1034.47 1770.02,-1059.87 1791.96,-1076.54"/>
<polygon fill="midnightblue" stroke="midnightblue" points="1790.08,-1079.52 1800.13,-1082.88 1794.38,-1073.99 1790.08,-1079.52"/>
</g>
<g id="edge77" class="edge">
<path fill="none" stroke="midnightblue" d="M1254.43,-944.54C1278.97,-933.46 1313.68,-918.51 1345,-907.63 1412.93,-884.02 1440.73,-903.86 1501,-864.63 1522.18,-850.84 1516.09,-834.81 1537,-820.63 1539.95,-818.63 1543.06,-816.78 1546.29,-815.08"/>
<polygon fill="midnightblue" stroke="midnightblue" points="1548.08,-818.1 1555.61,-810.65 1545.08,-811.78 1548.08,-818.1"/>
</g>
<g id="node52" class="node">
<polygon fill="white" stroke="red" points="1345,-824.63 1345,-854.63 1501,-854.63 1501,-824.63 1345,-824.63"/>
<text textLength="139.50" text-anchor="start" x="1353.00" y="-842.63">ns3::ChannelAccessManager</text>
<text textLength="97.96" text-anchor="middle" x="1422.66" y="-831.63">::GetBackoffStartFor</text>
</g>
<g id="edge69" class="edge">
<path fill="none" stroke="midnightblue" d="M1239.75,-944.32C1262.8,-925 1304.86,-891.64 1345,-869.63 1352.32,-865.61 1360.3,-861.87 1368.25,-858.49"/>
<polygon fill="midnightblue" stroke="midnightblue" points="1369.61,-861.71 1377.53,-854.69 1366.95,-855.24 1369.61,-861.71"/>
</g>
<g id="edge73" class="edge">
<path fill="none" stroke="midnightblue" d="M1501.26,-839.63C1517.76,-839.63 1535.03,-839.63 1551.01,-839.63"/>
<polygon fill="midnightblue" stroke="midnightblue" points="1551.3,-843.13 1561.3,-839.63 1551.3,-836.13 1551.3,-843.13"/>
</g>
<g id="edge76" class="edge">
<path fill="none" stroke="midnightblue" d="M1489.54,-824.61C1505.98,-820.84 1523.74,-816.77 1540.62,-812.9"/>
<polygon fill="midnightblue" stroke="midnightblue" points="1541.47,-816.3 1550.43,-810.65 1539.9,-809.48 1541.47,-816.3"/>
</g>
<g id="node53" class="node">
<polygon fill="white" stroke="red" points="1539,-900.63 1539,-930.63 1695,-930.63 1695,-900.63 1539,-900.63"/>
<text textLength="140.20" text-anchor="start" x="1547.00" y="-918.63">ns3::ChannelAccessManager</text>
<text textLength="107.18" text-anchor="middle" x="1616.32" y="-907.63">::GetAccessGrantStart</text>
</g>
<g id="edge70" class="edge">
<path fill="none" stroke="midnightblue" d="M1461.93,-854.64C1492.47,-866.73 1535.56,-883.79 1568.41,-896.79"/>
<polygon fill="midnightblue" stroke="midnightblue" points="1567.23,-900.09 1577.82,-900.51 1569.81,-893.58 1567.23,-900.09"/>
</g>
<g id="node54" class="node">
<polygon fill="white" stroke="black" points="1544,-153.13 1544,-172.13 1690,-172.13 1690,-153.13 1544,-153.13"/>
<text textLength="129.09" text-anchor="middle" x="1617.00" y="-160.13">ns3::Txop::GetBackoffStart</text>
</g>
<g id="edge74" class="edge">
<path fill="none" stroke="midnightblue" d="M1451,-824.4C1468.04,-813.35 1489.02,-796.83 1501,-776.63 1563.38,-671.4 1605.12,-274.83 1614.16,-182.11"/>
<polygon fill="midnightblue" stroke="midnightblue" points="1617.64,-182.42 1615.12,-172.13 1610.68,-181.75 1617.64,-182.42"/>
</g>
<g id="edge72" class="edge">
<path fill="none" stroke="midnightblue" d="M1636.1,-930.78C1652.25,-944.4 1676.45,-965.07 1697,-983.63 1732.27,-1015.49 1772.32,-1053.99 1794.62,-1075.66"/>
<polygon fill="midnightblue" stroke="midnightblue" points="1792.39,-1078.37 1802,-1082.84 1797.27,-1073.36 1792.39,-1078.37"/>
</g>
<g id="edge71" class="edge">
<path fill="none" stroke="midnightblue" d="M1695.23,-915.63C1704.88,-915.63 1714.8,-915.63 1724.58,-915.63"/>
<polygon fill="midnightblue" stroke="midnightblue" points="1724.72,-919.13 1734.72,-915.63 1724.72,-912.13 1724.72,-919.13"/>
</g>
<g id="edge75" class="edge">
<path fill="none" stroke="midnightblue" d="M1666.95,-172.22C1693.25,-177.37 1725.84,-183.75 1753.47,-189.16"/>
<polygon fill="midnightblue" stroke="midnightblue" points="1752.91,-192.62 1763.4,-191.11 1754.26,-185.75 1752.91,-192.62"/>
</g>
<g id="edge80" class="edge">
<path fill="none" stroke="midnightblue" d="M1246.83,-267.36C1270.93,-253.42 1309.05,-233.65 1345,-224.63 1486.02,-189.22 1658.29,-191.61 1749.07,-196.24"/>
<polygon fill="midnightblue" stroke="midnightblue" points="1749.02,-199.74 1759.2,-196.78 1749.4,-192.75 1749.02,-199.74"/>
</g>
<g id="edge117" class="edge">
<path fill="none" stroke="midnightblue" d="M408.46,-695.77C416.26,-738.93 444.51,-863.74 519,-929.63 652.61,-1047.81 756.86,-945.92 902,-1049.63 923.99,-1065.34 921.32,-1077.37 938,-1098.63 1005.96,-1185.26 1032.81,-1199.16 1097,-1288.63 1114.91,-1313.59 1107.98,-1329.81 1133,-1347.63 1135.71,-1349.56 1138.57,-1351.3 1141.55,-1352.86"/>
<polygon fill="midnightblue" stroke="midnightblue" points="1140.23,-1356.11 1150.78,-1357.07 1143.13,-1349.74 1140.23,-1356.11"/>
</g>
<g id="edge113" class="edge">
<path fill="none" stroke="midnightblue" d="M434.75,-665.58C531.22,-615.53 853.14,-452.04 1133,-350.63 1144.97,-346.29 1158.11,-342.29 1170.47,-338.84"/>
<polygon fill="midnightblue" stroke="midnightblue" points="1171.44,-342.21 1180.18,-336.21 1169.61,-335.45 1171.44,-342.21"/>
</g>
<g id="edge114" class="edge">
<path fill="none" stroke="midnightblue" d="M408.99,-665.42C418.23,-621.9 449.94,-494.99 519,-416.63 622.39,-299.31 666.12,-238.63 822.5,-238.63 822.5,-238.63 822.5,-238.63 1018.5,-238.63 1083.21,-238.63 1257.78,-219.08 1309,-258.63 1348.71,-289.29 1327.23,-318.7 1345,-365.63 1346.21,-368.84 1534.39,-818.41 1537,-820.63 1541.48,-824.43 1546.59,-827.5 1552.01,-829.97"/>
<polygon fill="midnightblue" stroke="midnightblue" points="1550.78,-833.24 1561.37,-833.59 1553.3,-826.72 1550.78,-833.24"/>
</g>
<g id="edge116" class="edge">
<path fill="none" stroke="midnightblue" d="M407.44,-665.29C414.61,-592.62 448.87,-284.11 519,-224.63 622.19,-137.11 687.19,-200.63 822.5,-200.63 822.5,-200.63 822.5,-200.63 1018.5,-200.63 1148.05,-200.63 1200.63,-153.64 1309,-224.63 1514.14,-359.02 1592.48,-678.3 1611.25,-770.37"/>
<polygon fill="midnightblue" stroke="midnightblue" points="1607.87,-771.32 1613.25,-780.45 1614.74,-769.96 1607.87,-771.32"/>
</g>
<g id="edge118" class="edge">
<path fill="none" stroke="midnightblue" d="M482.95,-695.66C644.72,-727.26 1017.04,-799.98 1161.35,-828.17"/>
<polygon fill="midnightblue" stroke="midnightblue" points="1160.86,-831.64 1171.34,-830.12 1162.2,-824.77 1160.86,-831.64"/>
</g>
<g id="edge122" class="edge">
<path fill="none" stroke="midnightblue" d="M434.28,-695.8C456.84,-707.56 489.43,-723.78 519,-735.63 747.05,-827.01 1028.02,-907.5 1153.74,-941.89"/>
<polygon fill="midnightblue" stroke="midnightblue" points="1153.04,-945.33 1163.61,-944.59 1154.88,-938.58 1153.04,-945.33"/>
</g>
<g id="edge112" class="edge">
<path fill="none" stroke="midnightblue" d="M408.7,-695.8C416.85,-736.6 445.34,-848.82 519,-896.63 575.69,-933.42 754.92,-915.63 822.5,-915.63 822.5,-915.63 822.5,-915.63 1018.5,-915.63 1199.75,-915.63 1411.92,-915.63 1528.38,-915.63"/>
<polygon fill="midnightblue" stroke="midnightblue" points="1528.65,-919.13 1538.65,-915.63 1528.65,-912.13 1528.65,-919.13"/>
</g>
<g id="edge115" class="edge">
<path fill="none" stroke="midnightblue" d="M407,-665.46C412.42,-588.49 440.95,-242.12 519,-176.63 570.72,-133.23 754.98,-162.63 822.5,-162.63 822.5,-162.63 822.5,-162.63 1222,-162.63 1329.52,-162.63 1453.55,-162.63 1533.28,-162.63"/>
<polygon fill="midnightblue" stroke="midnightblue" points="1533.74,-166.13 1543.74,-162.63 1533.74,-159.13 1533.74,-166.13"/>
</g>
<g id="edge123" class="edge">
<path fill="none" stroke="midnightblue" d="M413.52,-665.5C429.19,-635.42 468.12,-567.66 519,-528.63 712.43,-380.24 1002.39,-316.87 1140.87,-293.86"/>
<polygon fill="midnightblue" stroke="midnightblue" points="1141.68,-297.28 1150.98,-292.21 1140.55,-290.37 1141.68,-297.28"/>
</g>
<g id="node57" class="node">
<polygon fill="white" stroke="black" points="939.5,-578.63 939.5,-608.63 1095.5,-608.63 1095.5,-578.63 939.5,-578.63"/>
<text textLength="139.50" text-anchor="start" x="947.50" y="-596.63">ns3::ChannelAccessManager</text>
<text textLength="97.58" text-anchor="middle" x="1017.16" y="-585.63">::DoGrantDcfAccess</text>
</g>
<g id="edge82" class="edge">
<path fill="none" stroke="midnightblue" d="M483.01,-669.65C596.85,-653.43 809.45,-623.13 929.03,-606.09"/>
<polygon fill="midnightblue" stroke="midnightblue" points="929.83,-609.51 939.24,-604.64 928.84,-602.58 929.83,-609.51"/>
</g>
<g id="node65" class="node">
<polygon fill="white" stroke="red" points="519,-1096.63 519,-1126.63 709,-1126.63 709,-1096.63 519,-1096.63"/>
<text textLength="140.20" text-anchor="start" x="527.00" y="-1114.63">ns3::ChannelAccessManager</text>
<text textLength="173.84" text-anchor="middle" x="613.32" y="-1103.63">::DoRestartAccessTimeoutIfNeeded</text>
</g>
<g id="edge100" class="edge">
<path fill="none" stroke="midnightblue" d="M409.05,-695.76C419.16,-743.76 454.67,-895.85 519,-1005.63 537.94,-1037.95 567.61,-1069.33 588.54,-1089.45"/>
<polygon fill="midnightblue" stroke="midnightblue" points="586.15,-1092.01 595.83,-1096.33 590.96,-1086.92 586.15,-1092.01"/>
</g>
<g id="node69" class="node">
<polygon fill="white" stroke="black" points="522,-115.13 522,-134.13 706,-134.13 706,-115.13 522,-115.13"/>
<text textLength="167.54" text-anchor="middle" x="613.66" y="-122.13">ns3::Txop::NotifyAccessRequested</text>
</g>
<g id="edge119" class="edge">
<path fill="none" stroke="midnightblue" d="M407.1,-665.46C413.13,-586.81 444.53,-226.19 519,-148.63 522.63,-144.85 526.76,-141.64 531.22,-138.91"/>
<polygon fill="midnightblue" stroke="midnightblue" points="532.91,-141.97 540.15,-134.23 529.67,-135.77 532.91,-141.97"/>
</g>
<g id="node70" class="node">
<polygon fill="white" stroke="black" points="538.5,-856.63 538.5,-886.63 689.5,-886.63 689.5,-856.63 538.5,-856.63"/>
<text textLength="134.05" text-anchor="start" x="546.50" y="-874.63">ns3::WifiPhy::NotifyChannel</text>
<text textLength="85.88" text-anchor="middle" x="614.00" y="-863.63">AccessRequested</text>
</g>
<g id="edge121" class="edge">
<path fill="none" stroke="midnightblue" d="M412.6,-695.99C427.1,-727.92 464.8,-801.78 519,-841.63 524.56,-845.72 530.71,-849.26 537.11,-852.34"/>
<polygon fill="midnightblue" stroke="midnightblue" points="536.07,-855.7 546.63,-856.5 538.88,-849.29 536.07,-855.7"/>
</g>
<g id="edge98" class="edge">
<path fill="none" stroke="midnightblue" d="M1026.74,-608.89C1042.85,-636.97 1081.5,-696.2 1133,-720.63 1246.7,-774.57 1606.12,-684.58 1697,-771.63 1752.46,-824.75 1707.06,-868.35 1733,-940.63 1751.24,-991.46 1783.36,-1046.66 1800.48,-1074.45"/>
<polygon fill="midnightblue" stroke="midnightblue" points="1797.6,-1076.45 1805.87,-1083.09 1803.54,-1072.75 1797.6,-1076.45"/>
</g>
<g id="edge83" class="edge">
<path fill="none" stroke="midnightblue" d="M1028.07,-578.3C1043.78,-552.71 1075.46,-499.39 1097,-451.63 1116.59,-408.19 1098.09,-383.07 1133,-350.63 1137.34,-346.6 1142.29,-343.23 1147.58,-340.43"/>
<polygon fill="midnightblue" stroke="midnightblue" points="1149.14,-343.57 1156.76,-336.21 1146.21,-337.2 1149.14,-343.57"/>
</g>
<g id="edge88" class="edge">
<path fill="none" stroke="midnightblue" d="M1026.17,-578.5C1046.14,-539.82 1100.43,-439.07 1133,-421.63 1201.95,-384.7 1250.6,-369.58 1309,-421.63 1361.1,-468.06 1300.48,-679.88 1345,-733.63 1348,-737.24 1351.53,-740.32 1355.4,-742.95"/>
<polygon fill="midnightblue" stroke="midnightblue" points="1353.93,-746.14 1364.36,-747.99 1357.37,-740.04 1353.93,-746.14"/>
</g>
<g id="edge94" class="edge">
<path fill="none" stroke="midnightblue" d="M1029.75,-609.01C1048.19,-632.75 1087.38,-677.38 1133,-694.63 1206.17,-722.29 1241.61,-734.34 1309,-694.63 1337.45,-677.86 1316.55,-646.39 1345,-629.63 1479.78,-550.2 1576.27,-530.13 1697,-629.63 1761.64,-682.9 1698.23,-738.42 1733,-814.63 1746.72,-844.71 1771.12,-873.89 1789.18,-893.08"/>
<polygon fill="midnightblue" stroke="midnightblue" points="1786.78,-895.64 1796.24,-900.42 1791.83,-890.79 1786.78,-895.64"/>
</g>
<g id="edge95" class="edge">
<path fill="none" stroke="midnightblue" d="M1027.07,-578.34C1041.6,-552.37 1071.93,-497.96 1097,-451.63 1113.27,-421.55 1103.7,-401.27 1133,-383.63 1200.01,-343.28 1239.09,-348.54 1309,-383.63 1478.03,-468.47 1577.66,-695.39 1606.9,-770.85"/>
<polygon fill="midnightblue" stroke="midnightblue" points="1603.73,-772.36 1610.56,-780.46 1610.27,-769.87 1603.73,-772.36"/>
</g>
<g id="edge97" class="edge">
<path fill="none" stroke="midnightblue" d="M1028.17,-608.86C1043.76,-633.76 1074.92,-684.97 1097,-730.63 1115.76,-769.41 1100.12,-792.79 1133,-820.63 1138.39,-825.19 1144.63,-828.73 1151.24,-831.47"/>
<polygon fill="midnightblue" stroke="midnightblue" points="1150.54,-834.93 1161.13,-834.93 1152.85,-828.33 1150.54,-834.93"/>
</g>
<g id="edge99" class="edge">
<path fill="none" stroke="midnightblue" d="M1022.66,-578.45C1037.61,-524.98 1089.95,-346.54 1133,-307.63 1135.79,-305.11 1138.81,-302.84 1142.01,-300.8"/>
<polygon fill="midnightblue" stroke="midnightblue" points="1143.77,-303.83 1150.81,-295.92 1140.37,-297.71 1143.77,-303.83"/>
</g>
<g id="node58" class="node">
<polygon fill="white" stroke="red" points="1143,-780.63 1143,-810.63 1299,-810.63 1299,-780.63 1143,-780.63"/>
<text textLength="140.20" text-anchor="start" x="1151.00" y="-798.63">ns3::ChannelAccessManager</text>
<text textLength="93.22" text-anchor="middle" x="1220.32" y="-787.63">::GetBackoffEndFor</text>
</g>
<g id="edge84" class="edge">
<path fill="none" stroke="midnightblue" d="M1026.86,-608.71C1047.98,-646.38 1103.9,-743.15 1133,-765.63 1138.27,-769.7 1144.12,-773.24 1150.24,-776.31"/>
<polygon fill="midnightblue" stroke="midnightblue" points="1148.79,-779.5 1159.34,-780.49 1151.71,-773.14 1148.79,-779.5"/>
</g>
<g id="node59" class="node">
<polygon fill="white" stroke="red" points="1151.5,-605.63 1151.5,-635.63 1290.5,-635.63 1290.5,-605.63 1151.5,-605.63"/>
<text textLength="122.30" text-anchor="start" x="1159.50" y="-623.63">ns3::WifiPhy::GetChannel</text>
<text textLength="28.21" text-anchor="middle" x="1220.66" y="-612.63">Width</text>
</g>
<g id="edge89" class="edge">
<path fill="none" stroke="midnightblue" d="M1095.54,-603.95C1110.44,-605.95 1126.06,-608.04 1141.02,-610.05"/>
<polygon fill="midnightblue" stroke="midnightblue" points="1140.87,-613.56 1151.25,-611.42 1141.8,-606.62 1140.87,-613.56"/>
</g>
<g id="node60" class="node">
<polygon fill="white" stroke="red" points="1135,-556.63 1135,-586.63 1307,-586.63 1307,-556.63 1135,-556.63"/>
<text textLength="139.50" text-anchor="start" x="1143.00" y="-574.63">ns3::ChannelAccessManager</text>
<text textLength="155.50" text-anchor="middle" x="1220.32" y="-563.63">::GetLargestIdlePrimaryChannel</text>
</g>
<g id="edge90" class="edge">
<path fill="none" stroke="midnightblue" d="M1095.54,-585.22C1105.11,-584.17 1114.97,-583.1 1124.77,-582.03"/>
<polygon fill="midnightblue" stroke="midnightblue" points="1125.38,-585.48 1134.94,-580.92 1124.62,-578.52 1125.38,-585.48"/>
</g>
<g id="node61" class="node">
<polygon fill="white" stroke="black" points="1147.5,-507.63 1147.5,-537.63 1294.5,-537.63 1294.5,-507.63 1147.5,-507.63"/>
<text textLength="130.54" text-anchor="start" x="1155.50" y="-525.63">ns3::WifiPhy::GetOperating</text>
<text textLength="39.46" text-anchor="middle" x="1220.32" y="-514.63">Channel</text>
</g>
<g id="edge91" class="edge">
<path fill="none" stroke="midnightblue" d="M1053.23,-578.6C1075.75,-569.12 1105.85,-556.96 1133,-547.63 1139.95,-545.24 1147.26,-542.89 1154.57,-540.65"/>
<polygon fill="midnightblue" stroke="midnightblue" points="1155.94,-543.89 1164.51,-537.66 1153.92,-537.19 1155.94,-543.89"/>
</g>
<g id="node62" class="node">
<polygon fill="white" stroke="black" points="1150,-469.13 1150,-488.13 1292,-488.13 1292,-469.13 1150,-469.13"/>
<text textLength="125.91" text-anchor="middle" x="1220.66" y="-476.13">ns3::WifiPhy::GetPhyBand</text>
</g>
<g id="edge92" class="edge">
<path fill="none" stroke="midnightblue" d="M1032.1,-578.58C1052.09,-557.4 1091.56,-519.12 1133,-498.63 1138.74,-495.79 1144.9,-493.34 1151.19,-491.24"/>
<polygon fill="midnightblue" stroke="midnightblue" points="1152.59,-494.47 1161.14,-488.21 1150.55,-487.78 1152.59,-494.47"/>
</g>
<g id="node63" class="node">
<polygon fill="white" stroke="black" points="1162.5,-431.13 1162.5,-450.13 1279.5,-450.13 1279.5,-431.13 1162.5,-431.13"/>
<text textLength="99.96" text-anchor="middle" x="1220.32" y="-438.13">ns3::WifiPhy::GetPifs</text>
</g>
<g id="edge93" class="edge">
<path fill="none" stroke="midnightblue" d="M1026.94,-578.35C1043.39,-550.09 1082.59,-489.8 1133,-459.63 1138.97,-456.05 1145.53,-453.15 1152.29,-450.79"/>
<polygon fill="midnightblue" stroke="midnightblue" points="1153.77,-454 1162.29,-447.71 1151.7,-447.31 1153.77,-454"/>
</g>
<g id="node64" class="node">
<polygon fill="white" stroke="red" points="1139,-654.63 1139,-684.63 1303,-684.63 1303,-654.63 1139,-654.63"/>
<text textLength="147.07" text-anchor="start" x="1147.00" y="-672.63">ns3::WifiPhyOperatingChannel</text>
<text textLength="41.59" text-anchor="middle" x="1219.98" y="-661.63">::IsOfdm</text>
</g>
<g id="edge96" class="edge">
<path fill="none" stroke="midnightblue" d="M1048.58,-608.86C1071.36,-620.01 1103.65,-634.99 1133,-645.63 1138.8,-647.73 1144.87,-649.75 1151,-651.67"/>
<polygon fill="midnightblue" stroke="midnightblue" points="1150.05,-655.04 1160.64,-654.6 1152.09,-648.34 1150.05,-655.04"/>
</g>
<g id="edge85" class="edge">
<path fill="none" stroke="midnightblue" d="M1299.04,-780.99C1319.84,-777.04 1342.05,-772.82 1361.78,-769.07"/>
<polygon fill="midnightblue" stroke="midnightblue" points="1362.68,-772.46 1371.86,-767.16 1361.38,-765.58 1362.68,-772.46"/>
</g>
<g id="edge87" class="edge">
<path fill="none" stroke="midnightblue" d="M1299.37,-795.63C1365.24,-795.63 1459.82,-795.63 1528.45,-795.63"/>
<polygon fill="midnightblue" stroke="midnightblue" points="1528.81,-799.13 1538.81,-795.63 1528.81,-792.13 1528.81,-799.13"/>
</g>
<g id="edge86" class="edge">
<path fill="none" stroke="midnightblue" d="M1290.27,-810.65C1307.39,-814.41 1325.9,-818.49 1343.47,-822.35"/>
<polygon fill="midnightblue" stroke="midnightblue" points="1343.18,-825.87 1353.7,-824.6 1344.68,-819.03 1343.18,-825.87"/>
</g>
<g id="edge110" class="edge">
<path fill="none" stroke="midnightblue" d="M622.27,-1126.8C639.07,-1160.24 683.88,-1240.73 745,-1283.63 751.18,-1287.97 758.18,-1291.54 765.37,-1294.48"/>
<polygon fill="midnightblue" stroke="midnightblue" points="764.65,-1297.95 775.24,-1298.11 767.06,-1291.37 764.65,-1297.95"/>
</g>
<g id="edge109" class="edge">
<path fill="none" stroke="midnightblue" d="M624.65,-1127.05C643.76,-1156.22 689.44,-1219.34 745,-1250.63 762.91,-1260.71 877.68,-1282.7 952.15,-1296.22"/>
<polygon fill="midnightblue" stroke="midnightblue" points="951.91,-1299.74 962.38,-1298.07 953.16,-1292.85 951.91,-1299.74"/>
</g>
<g id="edge111" class="edge">
<path fill="none" stroke="midnightblue" d="M666.79,-1126.64C835.15,-1174.12 1364,-1312.5 1501,-1218.63 1537.56,-1193.58 1502,-1152.82 1537,-1125.63 1553.15,-1113.08 1669.27,-1102.64 1745.36,-1097.04"/>
<polygon fill="midnightblue" stroke="midnightblue" points="1745.64,-1100.53 1755.36,-1096.32 1745.13,-1093.55 1745.64,-1100.53"/>
</g>
<g id="edge106" class="edge">
<path fill="none" stroke="midnightblue" d="M637.27,-1096.6C707.35,-1049.86 930.76,-905.14 1133,-820.63 1138.71,-818.24 1144.72,-816 1150.81,-813.91"/>
<polygon fill="midnightblue" stroke="midnightblue" points="1151.99,-817.21 1160.4,-810.76 1149.8,-810.56 1151.99,-817.21"/>
</g>
<g id="node66" class="node">
<polygon fill="white" stroke="black" points="745.5,-1058.63 745.5,-1088.63 901.5,-1088.63 901.5,-1058.63 745.5,-1058.63"/>
<text textLength="140.20" text-anchor="start" x="753.50" y="-1076.63">ns3::ChannelAccessManager</text>
<text textLength="80.35" text-anchor="middle" x="822.82" y="-1065.63">::AccessTimeout</text>
</g>
<g id="edge101" class="edge">
<path fill="none" stroke="midnightblue" d="M664.97,-1096.61C686.15,-1091.97 711.47,-1087.06 735.55,-1082.88"/>
<polygon fill="midnightblue" stroke="midnightblue" points="736.15,-1086.33 745.42,-1081.2 734.97,-1079.43 736.15,-1086.33"/>
</g>
<g id="node67" class="node">
<polygon fill="white" stroke="red" points="765.5,-1108.13 765.5,-1127.13 881.5,-1127.13 881.5,-1108.13 765.5,-1108.13"/>
<text textLength="98.20" text-anchor="middle" x="823.16" y="-1115.13">ns3::EventId::Cancel</text>
</g>
<g id="edge105" class="edge">
<path fill="none" stroke="midnightblue" d="M709.04,-1114.35C724.63,-1114.8 740.52,-1115.26 755.28,-1115.68"/>
<polygon fill="midnightblue" stroke="midnightblue" points="755.2,-1119.18 765.3,-1115.97 755.41,-1112.19 755.2,-1119.18"/>
</g>
<g id="node68" class="node">
<polygon fill="white" stroke="red" points="745,-1222.13 745,-1241.13 902,-1241.13 902,-1222.13 745,-1222.13"/>
<text textLength="140.54" text-anchor="middle" x="822.82" y="-1229.13">ns3::Simulator::GetDelayLeft</text>
</g>
<g id="edge107" class="edge">
<path fill="none" stroke="midnightblue" d="M631.44,-1126.66C654.99,-1147.48 700.43,-1185.09 745,-1207.63 753.68,-1212.02 763.31,-1215.78 772.75,-1218.94"/>
<polygon fill="midnightblue" stroke="midnightblue" points="771.88,-1222.34 782.47,-1222.02 773.99,-1215.66 771.88,-1222.34"/>
</g>
<g id="edge104" class="edge">
<path fill="none" stroke="midnightblue" d="M890.45,-1058.56C958.3,-1042.81 1059.25,-1018.62 1097,-1005.63 1113.56,-999.93 1116.71,-996.04 1133,-989.63 1143.02,-985.68 1153.79,-981.74 1164.22,-978.06"/>
<polygon fill="midnightblue" stroke="midnightblue" points="1165.38,-981.37 1173.67,-974.77 1163.08,-974.75 1165.38,-981.37"/>
</g>
<g id="edge102" class="edge">
<path fill="none" stroke="midnightblue" d="M830.56,-1058.47C858.19,-989.41 972.27,-704.21 1006.65,-618.26"/>
<polygon fill="midnightblue" stroke="midnightblue" points="1009.97,-619.37 1010.44,-608.79 1003.47,-616.77 1009.97,-619.37"/>
</g>
<g id="edge103" class="edge">
<path fill="none" stroke="midnightblue" d="M772.47,-1088.66C756.28,-1092.21 737.68,-1095.91 719.06,-1099.32"/>
<polygon fill="midnightblue" stroke="midnightblue" points="718.26,-1095.91 709.04,-1101.13 719.5,-1102.8 718.26,-1095.91"/>
</g>
<g id="edge108" class="edge">
<path fill="none" stroke="midnightblue" d="M894.19,-1241.17C988.59,-1254.48 1162.16,-1280.31 1309,-1309.63 1330.91,-1314 1355.02,-1319.65 1375.32,-1324.64"/>
<polygon fill="midnightblue" stroke="midnightblue" points="1374.71,-1328.1 1385.26,-1327.11 1376.4,-1321.3 1374.71,-1328.1"/>
</g>
<g id="edge120" class="edge">
<path fill="none" stroke="midnightblue" d="M706.29,-124.63C787.67,-124.63 910.03,-124.63 1016.5,-124.63 1016.5,-124.63 1016.5,-124.63 1424,-124.63 1545.63,-124.63 1579.61,-111.79 1697,-143.63 1730.68,-152.76 1766.2,-172.06 1788.69,-185.66"/>
<polygon fill="midnightblue" stroke="midnightblue" points="1787.15,-188.82 1797.49,-191.09 1790.83,-182.86 1787.15,-188.82"/>
</g>
</g>
</svg>
</body>
</html>
